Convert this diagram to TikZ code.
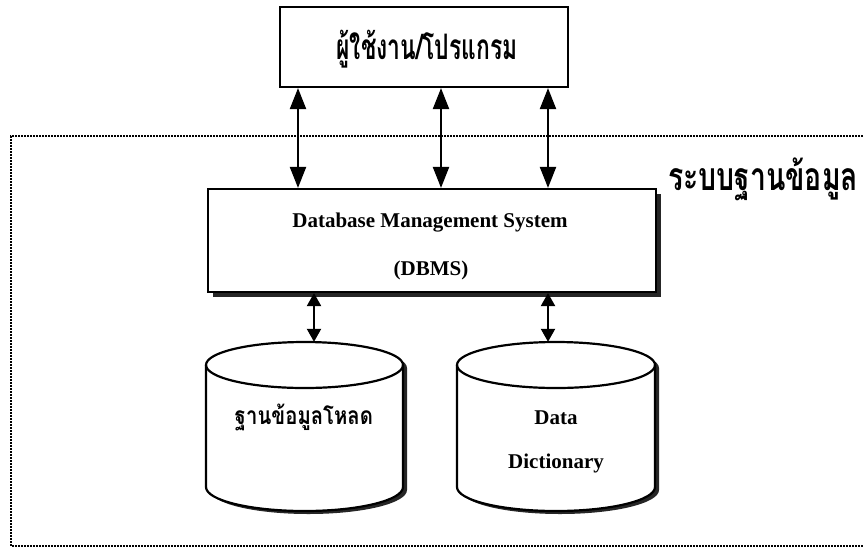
\documentclass[tikz,border=0pt]{standalone}
\usepackage{fontspec}
\setmainfont{Liberation Serif}
\newfontfamily\thaifont[Script=Thai]{Loma}
\usetikzlibrary{arrows.meta}
\begin{document}
\begin{tikzpicture}[x=1pt,y=-1pt,
  box/.style={draw, line width=2.2pt, rectangle, fill=white, inner sep=0pt},
  shade/.style={fill=black!85, draw=none},
  drumline/.style={draw, line width=2.2pt, fill=white},
  dbl/.style={line width=2.2pt,
    {Triangle[width=16pt,length=21pt]}-{Triangle[width=16pt,length=21pt]}},
  dblshort/.style={line width=2.2pt,
    {Triangle[width=14pt,length=13pt]}-{Triangle[width=14pt,length=13pt]}},
  frame/.style={line width=2.3pt, dash pattern=on 1.8pt off 1.2pt},
  en/.style={font=\fontsize{21}{24}\selectfont\bfseries, inner sep=0pt},
  th/.style={font=\thaifont\bfseries, inner sep=0pt},
  ]
\useasboundingbox (0,0) rectangle (864,547);
\clip (0,0) rectangle (864,547);

% dotted system boundary (right side runs off the page)
\draw[frame] (890,136) -- (11,136) -- (11,546) -- (890,546);

% users / programs
\node[box, minimum width=288pt, minimum height=80pt] (user) at (424,47) {};
\node[th] (usertext) at (427,49) {\resizebox*{181pt}{38pt}{ผู้ใช้งาน/โปรแกรม}};

% DBMS box with drop shadow
\fill[shade] (213,194) rectangle (661,297);
\node[box, minimum width=448pt, minimum height=103pt] (dbms) at (432,240.5) {};
\node[en] (dbmsa) at (430,223) {Database Management System};
\node[en] (dbmsb) at (431,270) {(DBMS)};

% system label
\node[th] (syslabel) at (763,179) {\resizebox*{190pt}{43pt}{ระบบฐานข้อมูล}};

% local database drum
\fill[shade] (210,368) -- (210,490) arc[start angle=180,end angle=360,x radius=98.5pt,y radius=24pt]
  -- (407,368) arc[start angle=0,end angle=180,x radius=98.5pt,y radius=23pt] -- cycle;
\path[drumline] (206,365) -- (206,487) arc[start angle=180,end angle=360,x radius=98.5pt,y radius=24pt]
  -- (403,365) arc[start angle=0,end angle=180,x radius=98.5pt,y radius=23pt] -- cycle;
\draw[line width=2.2pt] (206,365) arc[start angle=180,end angle=360,x radius=98.5pt,y radius=23pt];
\node[inner sep=0pt, minimum width=197pt, minimum height=169pt] (local) at (304.5,426.5) {};
\node[th] (localtext) at (304,417) {\resizebox*{138pt}{27pt}{ฐานข้อมูลโหลด}};

% data dictionary drum
\fill[shade] (461,368) -- (461,490) arc[start angle=180,end angle=360,x radius=99pt,y radius=24pt]
  -- (659,368) arc[start angle=0,end angle=180,x radius=99pt,y radius=23pt] -- cycle;
\path[drumline] (457,365) -- (457,487) arc[start angle=180,end angle=360,x radius=99pt,y radius=24pt]
  -- (655,365) arc[start angle=0,end angle=180,x radius=99pt,y radius=23pt] -- cycle;
\draw[line width=2.2pt] (457,365) arc[start angle=180,end angle=360,x radius=99pt,y radius=23pt];
\node[inner sep=0pt, minimum width=198pt, minimum height=169pt] (dict) at (556,426.5) {};
\node[en] (dicta) at (556,418) {Data};
\node[en] (dictb) at (556,463) {Dictionary};

% connector columns
\coordinate (c1) at (298,0);
\coordinate (c2) at (441,0);
\coordinate (c3) at (548,0);
\coordinate (c4) at (314,0);

\draw[dbl] (c1 |- user.south) -- (c1 |- dbms.north);
\draw[dbl] (c2 |- user.south) -- (c2 |- dbms.north);
\draw[dbl] (c3 |- user.south) -- (c3 |- dbms.north);
\draw[dblshort] (c4 |- dbms.south) -- (c4 |- local.north);
\draw[dblshort] (c3 |- dbms.south) -- (c3 |- dict.north);
\end{tikzpicture}
\end{document}
